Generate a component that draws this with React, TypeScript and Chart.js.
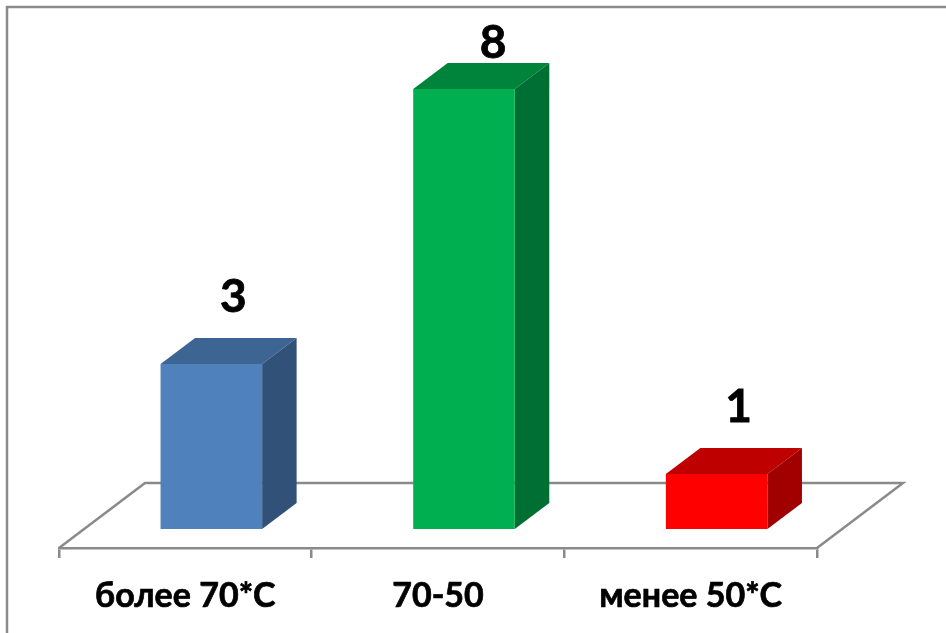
import React, { useEffect, useRef } from "react";
import { Chart, registerables } from "chart.js";

Chart.register(...registerables);

const categories = ["более 70*С", "70-50", "менее 50*С"];
const values = [3, 8, 1];
const frontColors = ["#4F81BD", "#00B050", "#FF0000"];
const topColors = ["#3D6593", "#00843C", "#BF0000"];
const sideColors = ["#325179", "#006F33", "#A00000"];

const GRAY = "#8A8A8A";
const DEPTH_X = 34.5;
const DEPTH_Y = 26;
const SHIFT_X = 26;
const SHIFT_Y = 19;
const FONT = "Lato, 'Noto Sans', sans-serif";

const cube3d = {
  id: "cube3d",
  beforeDraw(chart: any) {
    const { ctx, chartArea: a, width, height } = chart;
    ctx.save();
    ctx.fillStyle = "#fff";
    ctx.fillRect(0, 0, width, height);
    ctx.strokeStyle = GRAY;
    ctx.lineWidth = 2.5;
    ctx.beginPath();
    ctx.moveTo(7, height);
    ctx.lineTo(7, 7);
    ctx.lineTo(width, 7);
    ctx.stroke();
    ctx.beginPath();
    ctx.moveTo(a.left, a.bottom);
    ctx.lineTo(a.left + 86, a.bottom - 65);
    ctx.lineTo(a.right + 86, a.bottom - 65);
    ctx.lineTo(a.right, a.bottom);
    ctx.stroke();
    ctx.restore();
  },
  beforeDatasetsDraw(chart: any) {
    const { ctx } = chart;
    ctx.save();
    ctx.translate(SHIFT_X, -SHIFT_Y);
    chart.getDatasetMeta(0).data.forEach((bar: any, i: number) => {
      const { x, y, base, width } = bar.getProps(["x", "y", "base", "width"], true);
      const l = x - width / 2;
      const r = x + width / 2;
      ctx.fillStyle = topColors[i];
      ctx.beginPath();
      ctx.moveTo(l, y);
      ctx.lineTo(l + DEPTH_X, y - DEPTH_Y);
      ctx.lineTo(r + DEPTH_X, y - DEPTH_Y);
      ctx.lineTo(r, y);
      ctx.closePath();
      ctx.fill();
      ctx.fillStyle = sideColors[i];
      ctx.beginPath();
      ctx.moveTo(r, y);
      ctx.lineTo(r + DEPTH_X, y - DEPTH_Y);
      ctx.lineTo(r + DEPTH_X, base - DEPTH_Y);
      ctx.lineTo(r, base);
      ctx.closePath();
      ctx.fill();
    });
  },
  afterDatasetsDraw(chart: any) {
    const { ctx } = chart;
    ctx.restore();
    ctx.save();
    ctx.fillStyle = "#000";
    ctx.strokeStyle = "#000";
    ctx.lineWidth = 0.8;
    ctx.font = `bold 46px ${FONT}`;
    ctx.textAlign = "center";
    ctx.textBaseline = "middle";
    chart.getDatasetMeta(0).data.forEach((bar: any, i: number) => {
      const { x, y } = bar.getProps(["x", "y"], true);
      const rawY = y - SHIFT_Y - 67;
      const clamped = rawY < 43;
      const lx = x + SHIFT_X + (clamped ? 29 : 22);
      const ly = Math.max(43, rawY);
      ctx.fillText(String(values[i]), lx, ly);
      ctx.strokeText(String(values[i]), lx, ly);
    });
    ctx.restore();
  },
};

export default function App() {
  const ref = useRef<HTMLCanvasElement>(null);
  useEffect(() => {
    const chart = new Chart(ref.current!, {
      type: "bar",
      data: {
        labels: categories,
        datasets: [
          {
            data: values,
            backgroundColor: frontColors,
            barPercentage: 0.402,
            categoryPercentage: 1,
            clip: false as any,
          },
        ],
      },
      options: {
        animation: false,
        responsive: false,
        layout: { padding: { left: 59, right: 946 - 817, top: 108, bottom: 20 } },
        plugins: { legend: { display: false }, tooltip: { enabled: false } },
        scales: {
          x: {
            afterFit(scale: any) {
              scale.height = 65;
            },
            grid: { drawOnChartArea: false, color: GRAY, lineWidth: 2.5, tickLength: 10 },
            border: { color: GRAY, width: 2.5 },
            ticks: {
              color: "#000",
              padding: 21,
              maxRotation: 0,
              textStrokeColor: "#000",
              textStrokeWidth: 0.7,
              font: { family: FONT, size: 34, weight: "bold", lineHeight: 1 },
            },
          },
          y: { display: false, min: 0, max: 8 },
        },
      },
      plugins: [cube3d],
    });
    return () => chart.destroy();
  }, []);
  return (
    <div style={{ position: "fixed", left: 0, top: 0, width: 946, height: 633 }}>
      <canvas ref={ref} width={946} height={633} style={{ display: "block" }} />
    </div>
  );
}
